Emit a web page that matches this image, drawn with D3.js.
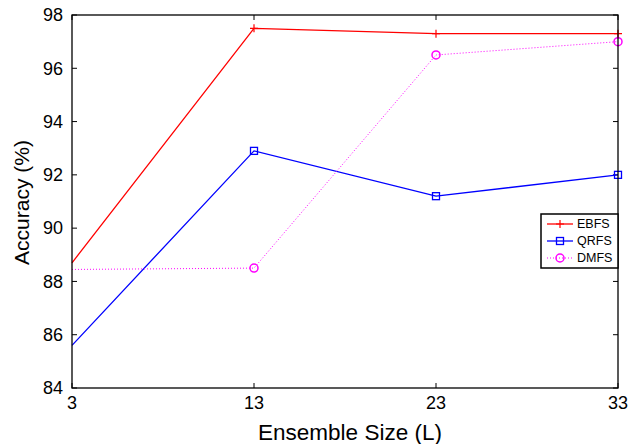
<!DOCTYPE html>
<html lang="en">
<head>
<meta charset="UTF-8">
<title>Accuracy vs Ensemble Size</title>
<style>
    body { margin: 0; background: #fff; }
    text { font-family: "Liberation Sans", Arial, sans-serif; fill: #000; }
    .tick-label { font-size: 18px; }
    .x-title { font-size: 22.5px; }
    .y-title { font-size: 21px; }
    .legend text { font-size: 12.5px; }
</style>
</head>
<body>
<div id="container"></div>
<script src="https://d3js.org/d3.v7.min.js"></script>
<script>
    // data
    var ensembleSizes = [3, 13, 23, 33];
    var ebfs = [88.7, 97.5, 97.3, 97.3];
    var qrfs = [85.6, 92.9, 91.2, 92.0];
    var dmfs = [88.45, 88.5, 96.5, 97.0];
    var yTicks = [84, 86, 88, 90, 92, 94, 96, 98];
    var seriesNames = ["EBFS", "QRFS", "DMFS"];

    var series = [
        { name: seriesNames[0], values: ebfs, color: "#ff0000", dash: null, width: 1.3, marker: "plus" },
        { name: seriesNames[1], values: qrfs, color: "#0000ff", dash: null, width: 1.3, marker: "square" },
        { name: seriesNames[2], values: dmfs, color: "#ff00ff", dash: "1,2", width: 1, marker: "circle" }
    ];

    var W = 628, H = 444;
    var margin = { top: 15, right: 10, bottom: 56, left: 72 };
    var width = W - margin.left - margin.right,
        height = H - margin.top - margin.bottom;

    var svg = d3.select("#container").append("svg")
        .attr("width", W).attr("height", H)
        .append("g")
        .attr("transform", "translate(" + margin.left + "," + margin.top + ")");

    var x = d3.scaleLinear().domain([3, 33]).range([0, width]);
    var y = d3.scaleLinear().domain([84, 98]).range([height, 0]);

    //ticks point inward on all four sides, like matlab
    var tickLen = 5;
    var ticks = svg.append("g").attr("stroke", "#000").attr("stroke-width", 1);
    ensembleSizes.forEach(function (d) {
        ticks.append("line").attr("x1", x(d)).attr("x2", x(d)).attr("y1", height).attr("y2", height - tickLen);
        ticks.append("line").attr("x1", x(d)).attr("x2", x(d)).attr("y1", 0).attr("y2", tickLen);
    });
    yTicks.forEach(function (d) {
        ticks.append("line").attr("x1", 0).attr("x2", tickLen).attr("y1", y(d)).attr("y2", y(d));
        ticks.append("line").attr("x1", width).attr("x2", width - tickLen).attr("y1", y(d)).attr("y2", y(d));
    });

    svg.append("g").selectAll("text").data(yTicks).enter().append("text")
        .attr("class", "tick-label")
        .attr("x", -9).attr("y", function (d) { return y(d); })
        .attr("dy", "0.35em").attr("text-anchor", "end")
        .text(function (d) { return d; });

    svg.append("g").selectAll("text").data(ensembleSizes).enter().append("text")
        .attr("class", "tick-label")
        .attr("x", function (d) { return x(d); }).attr("y", height + 21)
        .attr("text-anchor", "middle")
        .text(function (d) { return d; });

    svg.append("text").attr("class", "x-title")
        .attr("x", width / 2 + 5).attr("y", height + 52)
        .attr("text-anchor", "middle")
        .text("Ensemble Size (L)");

    svg.append("text").attr("class", "y-title")
        .attr("transform", "translate(-43," + (height / 2 + 1) + ") rotate(-90)")
        .attr("text-anchor", "middle")
        .text("Accuracy (%)");

    function drawMarker(g, type, cx, cy, color) {
        if (type === "plus") {
            g.append("path").attr("d", "M" + (cx - 4) + "," + cy + "H" + (cx + 4) + "M" + cx + "," + (cy - 4) + "V" + (cy + 4))
                .attr("stroke", color).attr("stroke-width", 1.2).attr("fill", "none");
        } else if (type === "square") {
            g.append("rect").attr("x", cx - 3.5).attr("y", cy - 3.5).attr("width", 7).attr("height", 7)
                .attr("stroke", color).attr("stroke-width", 1.3).attr("fill", "none");
        } else {
            g.append("circle").attr("cx", cx).attr("cy", cy).attr("r", 4)
                .attr("stroke", color).attr("stroke-width", 1.5).attr("fill", "none");
        }
    }

    var line = d3.line()
        .x(function (d, i) { return x(ensembleSizes[i]); })
        .y(function (d) { return y(d); });

    var plot = svg.append("g");
    series.forEach(function (s) {
        plot.append("path").attr("d", line(s.values))
            .attr("fill", "none").attr("stroke", s.color).attr("stroke-width", s.width)
            .attr("stroke-dasharray", s.dash);
        var mg = plot.append("g");
        // no marker is visible on the left edge in the original
        s.values.forEach(function (v, i) {
            if (i === 0) return;
            drawMarker(mg, s.marker, x(ensembleSizes[i]), y(v), s.color);
        });
    });

    // axes box
    svg.append("rect").attr("width", width).attr("height", height)
        .attr("fill", "none").attr("stroke", "#000").attr("stroke-width", 1.3);

    // legend
    var legend = svg.append("g").attr("class", "legend")
        .attr("transform", "translate(" + (width - 77) + ",199)");
    legend.append("rect").attr("width", 77).attr("height", 54)
        .attr("fill", "#fff").attr("stroke", "#000").attr("stroke-width", 1.5);
    series.forEach(function (s, i) {
        var ly = 10 + i * 17;
        legend.append("line").attr("x1", 6).attr("x2", 32).attr("y1", ly).attr("y2", ly)
            .attr("stroke", s.color).attr("stroke-width", s.width).attr("stroke-dasharray", s.dash);
        drawMarker(legend, s.marker, 19, ly, s.color);
        legend.append("text").attr("x", 36).attr("y", ly).attr("dy", "0.35em").text(s.name);
    });
</script>
</body>
</html>
